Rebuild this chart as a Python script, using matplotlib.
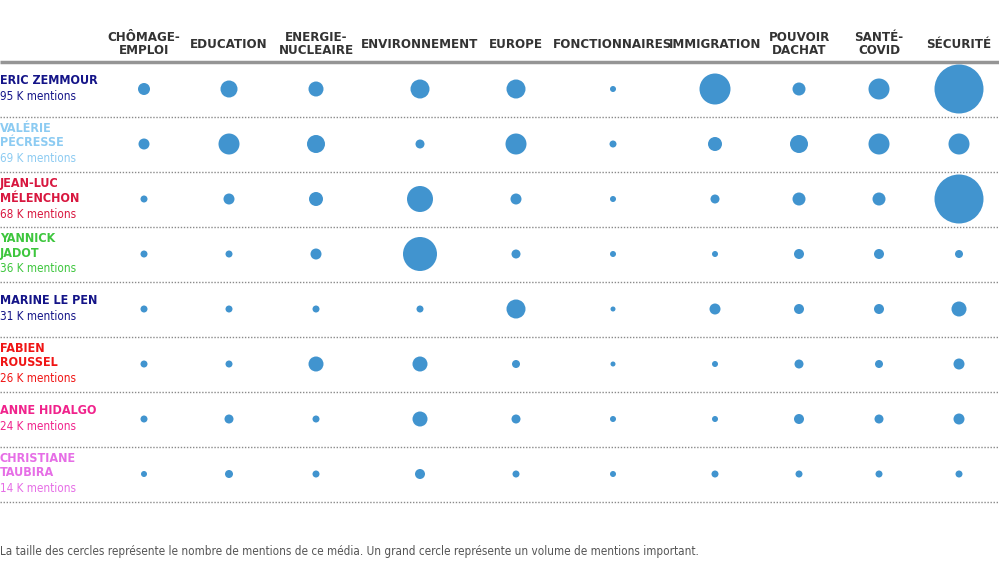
import matplotlib
matplotlib.use("Agg")
import matplotlib.pyplot as plt

topics = ["CHÔMAGE-\nEMPLOI", "EDUCATION", "ENERGIE-\nNUCLEAIRE", "ENVIRONNEMENT", "EUROPE",
          "FONCTIONNAIRES", "IMMIGRATION", "POUVOIR\nDACHAT", "SANTÉ-\nCOVID", "SÉCURITÉ"]
candidates = ["ERIC ZEMMOUR", "VALÉRIE\nPÉCRESSE", "JEAN-LUC\nMÉLENCHON", "YANNICK\nJADOT",
              "MARINE LE PEN", "FABIEN\nROUSSEL", "ANNE HIDALGO", "CHRISTIANE\nTAUBIRA"]
mentions_k = [95, 69, 68, 36, 31, 26, 24, 14]
cand_colors = ["#141488", "#8ccbf2", "#d8173f", "#3dc63d", "#141488", "#f01414", "#f0238c", "#e66ee6"]

# relative volume of mentions per topic (circle area)
volume = [
    [144, 289, 225, 361, 361, 36, 961, 169, 441, 2401],
    [121, 441, 324, 81, 441, 49, 196, 324, 441, 441],
    [49, 121, 196, 676, 121, 36, 81, 169, 169, 2401],
    [49, 49, 121, 1156, 81, 36, 36, 100, 100, 64],
    [49, 49, 49, 49, 361, 25, 121, 100, 100, 225],
    [49, 49, 225, 225, 64, 25, 36, 81, 64, 121],
    [49, 81, 49, 225, 81, 36, 36, 100, 81, 121],
    [36, 64, 49, 100, 49, 36, 49, 49, 49, 49],
]

W, H = 999, 564
fig = plt.figure(figsize=(W / 100, H / 100), dpi=100)
ax = fig.add_axes([0, 0, 1, 1])
ax.set_xlim(0, W)
ax.set_ylim(H, 0)
ax.axis("off")

col_x = [144, 229, 316, 420, 516, 613, 715, 799, 879, 959]
row_y0, row_h = 89, 55
blue = "#4194cf"
cond = dict(family="DejaVu Sans", stretch="condensed")

for x, t in zip(col_x, topics):
    ax.text(x, 44, t, ha="center", va="center", fontsize=9.5, linespacing=1.05,
            fontweight="bold", color="#333333", **cond)

ax.plot([0, W], [62, 62], color="#959595", lw=2.5, solid_capstyle="butt")

for i, (name, k, c) in enumerate(zip(candidates, mentions_k, cand_colors)):
    yc = row_y0 + i * row_h
    lines = name.split("\n")
    if len(lines) == 2:
        name_y = [yc - 16, yc - 1]
        my = yc + 15
    else:
        name_y = [yc - 8]
        my = yc + 8
    for ln, ly in zip(lines, name_y):
        ax.text(0, ly, ln, ha="left", va="center", fontsize=9.0, color=c,
                fontweight="bold", **cond)
    ax.text(0, my, f"{k} K mentions", ha="left", va="center", fontsize=8.4, color=c,
            fontweight="light", **cond)

    sizes = [v * 0.72 ** 2 for v in volume[i]]
    ax.scatter(col_x, [yc] * len(col_x), s=sizes, color=blue, edgecolors="none", zorder=3)

    ax.plot([0, W], [yc + row_h / 2, yc + row_h / 2], color="#8a8a8a", lw=1,
            linestyle=(0, (1, 1.2)))

ax.text(0, 552, "La taille des cercles représente le nombre de mentions de ce média. "
        "Un grand cercle représente un volume de mentions important.",
        ha="left", va="center", fontsize=8.4, color="#555555", **cond)

fig.savefig("out.png", dpi=100)
